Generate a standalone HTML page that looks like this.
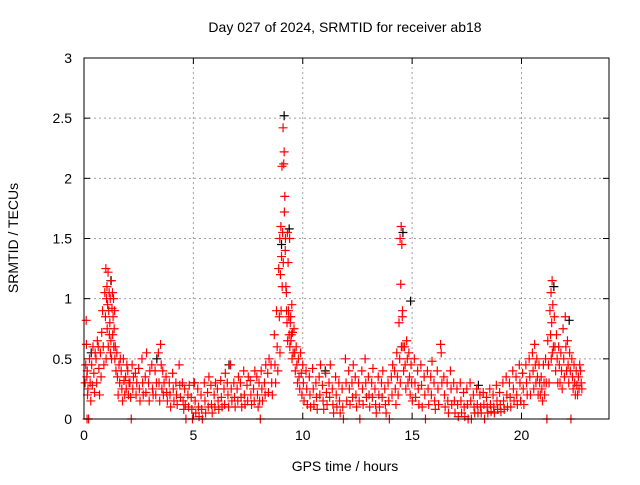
<!DOCTYPE html>
<html><head><meta charset="utf-8"><style>
body{margin:0;background:#fff;width:640px;height:480px;overflow:hidden}
svg{font-family:"Liberation Sans",sans-serif;font-size:14px}
</style></head><body>
<svg id="chart" width="640" height="480">
<text x="345" y="32" text-anchor="middle">Day 027 of 2024, SRMTID for receiver ab18</text>
<text x="345" y="471" text-anchor="middle">GPS time / hours</text>
<text transform="translate(18,238) rotate(-90)" text-anchor="middle">SRMTID / TECUs</text>
<g id="grid"></g>
<g id="ticks"></g>
<g id="black"></g>
<g id="red"></g>
<rect x="84" y="58" width="525" height="361" fill="none" stroke="#000"/>
</svg>
<script>
const xTicks=[0,5,10,15,20];
const yTicks=[0,0.5,1,1.5,2,2.5,3];
const yTickLabels=["0","0.5","1","1.5","2","2.5","3"];
// rows: [hour, values...]
const redRows=[
[0.05,0.3,0.45,0.62,0],[0.1,0.82,0.35,0.2],[0.15,0.4,0.25,0],[0.25,0.5,0.3,0.15],[0.35,0.45,0.28,0.6],[0.45,0.38,0.22,0.55],[0.55,0.5,0.3,0.65],[0.65,0.6,0.42,0.2],[0.75,0.55,0.35,0.72],
[0.85,0.9,0.6,0.45],[0.95,1.05,0.85,0.5],[1.0,1.25,1.0,0.75],[1.05,1.1,0.95,0.6],[1.1,1.22,0.9,0.7],[1.15,1.05,0.8,0.55],[1.2,1.0,0.65,0.5],[1.25,1.15,0.92,0.7],[1.3,1.05,0.85,0.6],[1.35,1.0,0.75,0.5],[1.4,0.9,0.6,0.4],
[1.5,0.55,0.35,0.2],[1.6,0.45,0.3,0.5],[1.7,0.4,0.25,0.15],[1.8,0.5,0.32,0.2],[1.9,0.35,0.25,0.45],[2.0,0.4,0.2,0.3],[2.1,0.3,0.18,0],[2.2,0.45,0.25,0.35],[2.35,0.38,0.2,0.3],[2.5,0.42,0.25,0.15],[2.65,0.5,0.3,0.2],[2.8,0.35,0.22,0.55],[2.95,0.3,0.15,0.4],
[3.1,0.45,0.25,0.2],[3.25,0.4,0.2,0.3],[3.4,0.55,0.3,0.15],[3.5,0.62,0.45,0.25],[3.6,0.4,0.2,0.3],[3.75,0.35,0.22,0.15],[3.9,0.3,0.2,0.1],[4.05,0.38,0.25,0.15],[4.2,0.3,0.2,0.12],[4.35,0.45,0.28,0.18],[4.5,0.3,0.15,0.08],[4.6,0.25,0.12,0],
[4.75,0.2,0.1,0.28],[4.9,0.18,0.08,0],[5.05,0.3,0.15,0.05],[5.2,0.25,0.1,0.02],[5.35,0.2,0.08,0],[5.5,0.3,0.15,0.05],[5.65,0.22,0.1,0.35],[5.8,0.28,0.12,0.05],[5.95,0.2,0.1,0.3],[6.1,0.25,0.15,0.08],[6.25,0.32,0.18,0.1],[6.4,0.25,0.12,0.38],[6.55,0.3,0.2,0.1],[6.7,0.45,0.25,0.15],[6.85,0.3,0.18,0.1],
[7.0,0.25,0.15,0.35],[7.15,0.3,0.18,0.1],[7.3,0.4,0.2,0.12],[7.45,0.28,0.15,0.35],[7.6,0.32,0.2,0.12],[7.75,0.25,0.15,0.4],[7.9,0.35,0.2,0.1],[8.0,0.3,0.15,0],[8.1,0.4,0.25,0.15],[8.25,0.3,0.2,0.45],[8.4,0.38,0.22,0.5],[8.55,0.45,0.3,0.2],[8.7,0.7,0.45,0.3],[8.8,0.9,0.6,0.4],[8.9,1.25,0.85,0.55],
[8.95,1.5,1.2,0.9],[9.0,1.6,1.35,1.1],[9.05,2.1,1.55,1.3],[9.1,2.42,2.12,1.72],[9.15,2.22,1.85,1.5],[9.2,1.4,1.1,0.9],[9.25,1.05,0.8,0.65],[9.3,1.55,1.3,0.85],[9.35,0.9,0.7,0.6],[9.4,1.5,0.8,0.65],[9.45,0.85,0.7,0.5],[9.5,0.95,0.72,0.55],[9.6,0.75,0.55,0.4],[9.7,0.6,0.45,0.3],[9.8,0.5,0.35,0.25],[9.9,0.55,0.38,0.2],
[10.0,0.45,0.3,0.15],[10.15,0.4,0.25,0.12],[10.3,0.35,0.2,0.1],[10.45,0.42,0.25,0.12],[10.6,0.3,0.18,0.08],[10.75,0.35,0.2,0.45],[10.9,0.28,0.15,0.08],[11.05,0.38,0.22,0.12],[11.2,0.3,0.18,0.45],[11.35,0.25,0.12,0.05],[11.5,0.35,0.2,0.1],[11.65,0.3,0.15,0.05],[11.8,0.25,0.1,0],[11.95,0.5,0.3,0.15],[12.1,0.4,0.25,0.12],[12.25,0.3,0.18,0.45],[12.4,0.35,0.2,0.1],[12.55,0.3,0.15,0],[12.7,0.4,0.25,0.12],[12.85,0.5,0.3,0.18],[13.0,0.35,0.2,0.1],[13.15,0.3,0.18,0.42],[13.3,0.25,0.12,0.05],[13.45,0.35,0.2,0.1],[13.6,0.3,0.18,0.4],[13.75,0.25,0.12,0.05],[13.9,0.3,0.15,0],[14.05,0.35,0.2,0.45],[14.2,0.4,0.25,0.12],[14.3,0.55,0.35,0.2],
[14.4,0.8,0.5,0.3],[14.45,1.5,1.12,0.6],[14.5,1.6,1.45,0.9],[14.55,0.85,0.6,0.4],[14.65,0.6,0.45,0.25],[14.75,0.65,0.5,0.3],[14.85,0.55,0.35,0.2],[14.95,0.45,0.3,0.15],[15.1,0.5,0.3,0.18],[15.25,0.4,0.25,0.12],[15.4,0.45,0.28,0.1],[15.55,0.35,0.2,0],[15.7,0.4,0.25,0.12],[15.85,0.35,0.2,0.48],[16.0,0.3,0.15,0.08],[16.15,0.4,0.25,0.12],[16.3,0.62,0.55,0.3],[16.45,0.35,0.2,0.1],[16.6,0.3,0.15,0.05],[16.75,0.4,0.25,0.12],[16.9,0.3,0.15,0.05],[17.05,0.25,0.12,0.02],[17.2,0.3,0.15,0.05],[17.35,0.22,0.1,0.02],[17.5,0.25,0.12,0],[17.65,0.3,0.15,0],[17.8,0.2,0.1,0.05],[17.95,0.25,0.12,0.05],[18.1,0.2,0.1,0.05],[18.25,0.22,0.12,0],[18.4,0.18,0.1,0.05],[18.55,0.25,0.12,0.06],[18.7,0.2,0.1,0.05],[18.85,0.28,0.15,0.08],[19.0,0.22,0.12,0.06],[19.15,0.3,0.15,0.08],
[19.3,0.35,0.2,0.1],[19.45,0.3,0.18,0.1],[19.6,0.4,0.25,0.15],[19.75,0.35,0.2,0.12],[19.9,0.45,0.3,0.15],[20.05,0.38,0.25,0.12],[20.2,0.45,0.3,0.2],[20.35,0.5,0.35,0.2],[20.5,0.55,0.4,0.25],[20.6,0.62,0.45,0.3],[20.7,0.5,0.35,0.2],[20.8,0.45,0.3,0.2],[20.9,0.35,0.25,0.15],[21.0,0.45,0.3,0.2],[21.1,0.5,0.3,0],[21.2,0.65,0.45,0.3],[21.3,0.9,0.7,0.5],[21.35,1.05,0.8,0.55],[21.4,1.15,0.95,0.6],[21.5,0.85,0.6,0.4],[21.6,0.7,0.5,0.3],[21.7,0.6,0.45,0.3],[21.8,0.55,0.4,0.25],[21.9,0.75,0.5,0.35],[22.0,0.85,0.6,0.4],[22.1,0.65,0.45,0.3],[22.2,0.55,0.4,0],[22.3,0.5,0.35,0.25],[22.4,0.45,0.3,0.2],[22.5,0.4,0.28,0.2],[22.6,0.35,0.25,0.45],[22.7,0.4,0.3,0.25]
];
const blackRows=[
[0.3,0.55],[1.2,1.15],[3.3,0.5],[6.6,0.45],[9.0,1.45],[9.12,2.52],[9.35,1.58],[14.55,1.55],[14.9,0.98],[21.45,1.1],[22.15,0.82],[18.0,0.28],[11.0,0.4],[5.0,0.3]
];
const X0=84,X1=609,Y0=419,Y1=58,XMAX=24,YMAX=3;
const sx=v=>X0+v/XMAX*(X1-X0);
const sy=v=>Y0-v/YMAX*(Y0-Y1);
const NS="http://www.w3.org/2000/svg";
const grid=document.getElementById('grid'),ticks=document.getElementById('ticks');
function mk(t,a,p){const e=document.createElementNS(NS,t);for(const k in a)e.setAttribute(k,a[k]);p.appendChild(e);return e;}
xTicks.forEach(v=>{const x=sx(v);
 if(v>0){const l=mk('line',{x1:x,x2:x,y1:Y0,y2:Y1,stroke:'#a0a0a0','stroke-dasharray':'2,3'},grid);}
 mk('line',{x1:x,x2:x,y1:Y0,y2:Y0-6,stroke:'#000'},ticks);mk('line',{x1:x,x2:x,y1:Y1,y2:Y1+6,stroke:'#000'},ticks);
 const t=mk('text',{x:x,y:Y0+21,'text-anchor':'middle'},ticks);t.textContent=v;
 });
yTicks.forEach((v,i)=>{const y=sy(v);
 if(v>0&&v<3){const l=mk('line',{x1:X0,x2:X1,y1:y,y2:y,stroke:'#a0a0a0','stroke-dasharray':'2,3'},grid);}
 mk('line',{x1:X0,x2:X0+6,y1:y,y2:y,stroke:'#000'},ticks);mk('line',{x1:X1,x2:X1-6,y1:y,y2:y,stroke:'#000'},ticks);
 const t=mk('text',{x:X0-12,y:y+5,'text-anchor':'end'},ticks);t.textContent=yTickLabels[i];
 });
function plus(g,h,v,c){const x=sx(h),y=sy(v);
 const p=mk('path',{d:`M${x-4.5},${y}H${x+4.5}M${x},${y-4.5}V${y+4.5}`,stroke:c,'stroke-width':1.2,fill:'none'},g);
 }
const bg=document.getElementById('black'),rg=document.getElementById('red');
blackRows.forEach(r=>r.slice(1).forEach(v=>plus(bg,r[0]+0.03,v,'#000')));
redRows.forEach(r=>r.slice(1).forEach((v,j)=>plus(rg,r[0]+j*0.03,v,'#f00')));
</script>
</body></html>
